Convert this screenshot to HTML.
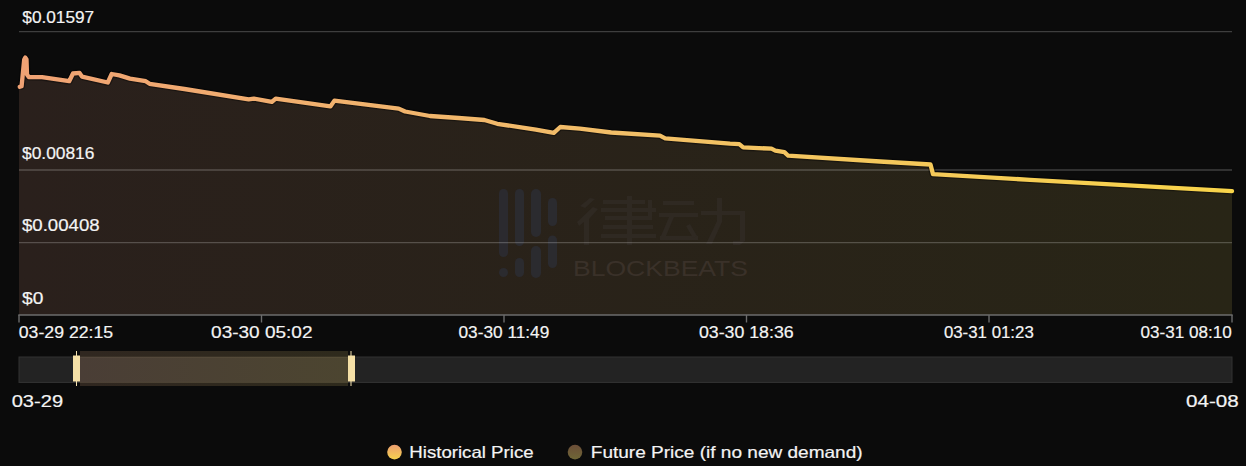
<!DOCTYPE html>
<html>
<head>
<meta charset="utf-8">
<style>
html,body{margin:0;padding:0;}
body{width:1246px;height:466px;overflow:hidden;background:#0b0b0b;position:relative;}
svg{position:absolute;left:0;top:0;}
.lbl text{font-family:"Liberation Sans",sans-serif;}
</style>
</head>
<body>
<svg width="1246" height="466" viewBox="0 0 1246 466">
  <defs>
    <linearGradient id="fillg" x1="19" y1="0" x2="1232" y2="0" gradientUnits="userSpaceOnUse">
      <stop offset="0" stop-color="#2a201c"/>
      <stop offset="1" stop-color="#282516"/>
    </linearGradient>
    <linearGradient id="lineg" x1="19" y1="0" x2="1232" y2="0" gradientUnits="userSpaceOnUse">
      <stop offset="0" stop-color="#f0a274"/>
      <stop offset="0.5" stop-color="#f2bf68"/>
      <stop offset="1" stop-color="#f8d44a"/>
    </linearGradient>
    <linearGradient id="selg" x1="0" y1="0" x2="1" y2="0">
      <stop offset="0" stop-color="#4a3e36"/>
      <stop offset="1" stop-color="#4c4530"/>
    </linearGradient>
    <linearGradient id="selb" x1="0" y1="0" x2="1" y2="0">
      <stop offset="0" stop-color="#302720"/>
      <stop offset="1" stop-color="#2e2a1c"/>
    </linearGradient>
    <linearGradient id="dot1" x1="0" y1="0" x2="0" y2="1">
      <stop offset="0" stop-color="#ec9e70"/>
      <stop offset="1" stop-color="#f4d24e"/>
    </linearGradient>
    <linearGradient id="dot2" x1="0" y1="0" x2="0" y2="1">
      <stop offset="0" stop-color="#6c4e38"/>
      <stop offset="1" stop-color="#6e6636"/>
    </linearGradient>
  </defs>
  <path fill="url(#fillg)" d="M19,315 L19,86.8 19.8,86.8 L21.6,86.2 L24.2,59.5 L25.3,57.6 L26.5,59.5 L27.0,74.5 L28.8,77.0 L42.0,77.2 L69.2,81.2 L73.0,73.5 L79.5,72.8 L82.0,76.7 L107.8,82.5 L111.7,74.0 L119.4,75.4 L130.0,78.6 L145.7,81.2 L149.6,83.8 L184.4,89.0 L248.7,99.3 L253.8,98.6 L271.9,101.8 L275.7,98.6 L330.5,106.4 L334.4,100.6 L398.7,108.6 L405.1,111.5 L430.0,116.0 L458.6,118.0 L484.4,120.0 L497.2,123.8 L535.8,129.6 L553.8,132.8 L560.3,127.0 L580.0,128.6 L611.2,132.5 L660.0,135.7 L665.2,138.3 L730.0,143.7 L739.3,144.2 L743.2,147.4 L771.5,148.7 L775.3,150.6 L784.4,152.1 L788.2,155.7 L880.0,161.5 L930.5,164.5 L933.0,174.1 L1030.0,179.8 L1232.0,191.1 L1232,315 Z"/>
  <g fill="#2c2e37" opacity="0.75">
    <rect x="499" y="189" width="9" height="68" rx="4.5"/>
    <rect x="499" y="268" width="9" height="9" rx="4.5"/>
    <rect x="515" y="189" width="9" height="57" rx="4.5"/>
    <rect x="515" y="258" width="9" height="19" rx="4.5"/>
    <rect x="531" y="189" width="10" height="48" rx="5"/>
    <rect x="531" y="246" width="10" height="32" rx="5"/>
    <rect x="548" y="198" width="9" height="28" rx="4.5"/>
    <rect x="548" y="235.5" width="9" height="32.5" rx="4.5"/>
  </g>
  <g fill="#312b25" opacity="0.8">
    <path d="M590,198 L595,199 L585,208 L580,206 Z"/>
    <path d="M593,207 L598,209 L589,219 L589,245 L584,245 L584,222 L579,226 L577,222 Z"/>
    <rect x="603" y="200" width="42" height="4"/>
    <rect x="601" y="208" width="55" height="4"/>
    <rect x="648" y="200" width="4" height="17"/>
    <rect x="605" y="216" width="47" height="4"/>
    <rect x="603" y="225" width="50" height="4"/>
    <rect x="601" y="234" width="55" height="4"/>
    <rect x="627" y="196" width="5" height="49"/>
    <rect x="663" y="201" width="31" height="4"/>
    <rect x="659" y="213" width="39" height="4"/>
    <path d="M669,217 L674,217 L666,236 L661,236 Z"/>
    <rect x="660" y="236" width="38" height="4"/>
    <path d="M686,226 L690,224 L697,236 L693,238 Z"/>
    <rect x="701" y="211" width="44" height="4"/>
    <path d="M740,211 L745,211 L745,241 L740,245 L733,245 L733,241 L740,241 Z"/>
    <path d="M717,198 L722,198 L722,222 L712,244 L706,244 L717,221 Z"/>
  </g>
  <text x="573" y="276" font-family="Liberation Sans" font-size="22" fill="#3a3129" textLength="175" lengthAdjust="spacingAndGlyphs">BLOCKBEATS</text>
  <g stroke="rgba(255,255,255,0.21)" stroke-width="1.4">
    <line x1="19" y1="31.6" x2="1232" y2="31.6"/>
    <line x1="19" y1="170" x2="1232" y2="170"/>
    <line x1="19" y1="242.6" x2="1232" y2="242.6"/>
  </g>
  <path fill="none" stroke="rgba(0,0,0,0.35)" stroke-width="7" stroke-linejoin="round" d="M19.8,86.8 L21.6,86.2 L24.2,59.5 L25.3,57.6 L26.5,59.5 L27.0,74.5 L28.8,77.0 L42.0,77.2 L69.2,81.2 L73.0,73.5 L79.5,72.8 L82.0,76.7 L107.8,82.5 L111.7,74.0 L119.4,75.4 L130.0,78.6 L145.7,81.2 L149.6,83.8 L184.4,89.0 L248.7,99.3 L253.8,98.6 L271.9,101.8 L275.7,98.6 L330.5,106.4 L334.4,100.6 L398.7,108.6 L405.1,111.5 L430.0,116.0 L458.6,118.0 L484.4,120.0 L497.2,123.8 L535.8,129.6 L553.8,132.8 L560.3,127.0 L580.0,128.6 L611.2,132.5 L660.0,135.7 L665.2,138.3 L730.0,143.7 L739.3,144.2 L743.2,147.4 L771.5,148.7 L775.3,150.6 L784.4,152.1 L788.2,155.7 L880.0,161.5 L930.5,164.5 L933.0,174.1 L1030.0,179.8 L1232.0,191.1"/>
  <path fill="none" stroke="url(#lineg)" stroke-width="4.3" stroke-linejoin="round" stroke-linecap="round" d="M19.8,86.8 L21.6,86.2 L24.2,59.5 L25.3,57.6 L26.5,59.5 L27.0,74.5 L28.8,77.0 L42.0,77.2 L69.2,81.2 L73.0,73.5 L79.5,72.8 L82.0,76.7 L107.8,82.5 L111.7,74.0 L119.4,75.4 L130.0,78.6 L145.7,81.2 L149.6,83.8 L184.4,89.0 L248.7,99.3 L253.8,98.6 L271.9,101.8 L275.7,98.6 L330.5,106.4 L334.4,100.6 L398.7,108.6 L405.1,111.5 L430.0,116.0 L458.6,118.0 L484.4,120.0 L497.2,123.8 L535.8,129.6 L553.8,132.8 L560.3,127.0 L580.0,128.6 L611.2,132.5 L660.0,135.7 L665.2,138.3 L730.0,143.7 L739.3,144.2 L743.2,147.4 L771.5,148.7 L775.3,150.6 L784.4,152.1 L788.2,155.7 L880.0,161.5 L930.5,164.5 L933.0,174.1 L1030.0,179.8 L1232.0,191.1"/>
  <g stroke="#6c6c6c" stroke-width="1.4">
    <line x1="18.3" y1="315" x2="1232.7" y2="315"/>
    <line x1="19" y1="315" x2="19" y2="322.5"/>
    <line x1="261.5" y1="315" x2="261.5" y2="322.5"/>
    <line x1="504" y1="315" x2="504" y2="322.5"/>
    <line x1="746.5" y1="315" x2="746.5" y2="322.5"/>
    <line x1="989" y1="315" x2="989" y2="322.5"/>
    <line x1="1232" y1="315" x2="1232" y2="322.5"/>
  </g>
  <rect x="19" y="357" width="1213" height="25.4" fill="#232323" stroke="#333333" stroke-width="1"/>
  <rect x="80" y="351" width="268" height="35" fill="url(#selb)"/>
  <rect x="80" y="357" width="268" height="25.4" fill="url(#selg)"/>
  <g stroke="rgba(255,235,190,0.1)" stroke-width="1"><line x1="80" y1="357" x2="348" y2="357"/><line x1="80" y1="382.4" x2="348" y2="382.4"/></g>
  <line x1="76.5" y1="351" x2="76.5" y2="386" stroke="#f4e2b0" stroke-width="1"/>
  <rect x="73" y="355.5" width="7" height="26" fill="#f5e0a6"/>
  <line x1="351" y1="351" x2="351" y2="386" stroke="#f4e2b0" stroke-width="1"/>
  <rect x="348" y="355.5" width="7" height="26" fill="#f5e0a6"/>
  <circle cx="394.5" cy="452.1" r="7.3" fill="url(#dot1)"/>
  <circle cx="575" cy="452.1" r="7.3" fill="url(#dot2)"/>
  <g class="lbl" fill="#f4f4f4" stroke="#f4f4f4" stroke-width="0.2">
  <text x="22.30" y="22.50" font-size="17" textLength="71.90" lengthAdjust="spacingAndGlyphs">$0.01597</text>
  <text x="22.00" y="158.90" font-size="17" textLength="72.40" lengthAdjust="spacingAndGlyphs">$0.00816</text>
  <text x="22.00" y="231.30" font-size="17" textLength="77.60" lengthAdjust="spacingAndGlyphs">$0.00408</text>
  <text x="22.00" y="304.30" font-size="17" textLength="21.30" lengthAdjust="spacingAndGlyphs">$0</text>
  <text x="18.80" y="337.60" font-size="17" textLength="94.30" lengthAdjust="spacingAndGlyphs">03-29 22:15</text>
  <text x="211.10" y="337.60" font-size="17" textLength="101.40" lengthAdjust="spacingAndGlyphs">03-30 05:02</text>
  <text x="458.50" y="337.60" font-size="17" textLength="90.80" lengthAdjust="spacingAndGlyphs">03-30 11:49</text>
  <text x="698.90" y="337.60" font-size="17" textLength="94.80" lengthAdjust="spacingAndGlyphs">03-30 18:36</text>
  <text x="943.90" y="337.60" font-size="17" textLength="89.90" lengthAdjust="spacingAndGlyphs">03-31 01:23</text>
  <text x="1140.50" y="337.60" font-size="17" textLength="91.20" lengthAdjust="spacingAndGlyphs">03-31 08:10</text>
  <text x="11.70" y="406.80" font-size="17" textLength="51.40" lengthAdjust="spacingAndGlyphs">03-29</text>
  <text x="1186.10" y="406.80" font-size="17" textLength="52.70" lengthAdjust="spacingAndGlyphs">04-08</text>
  <text x="409.30" y="457.90" font-size="16.5" textLength="124.30" lengthAdjust="spacingAndGlyphs">Historical Price</text>
  <text x="590.80" y="457.90" font-size="16.5" textLength="271.80" lengthAdjust="spacingAndGlyphs">Future Price (if no new demand)</text>
  </g>
</svg>
</body>
</html>
